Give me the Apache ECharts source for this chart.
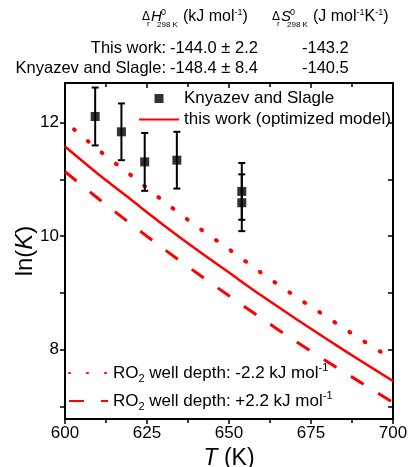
<!DOCTYPE html>
<html>
<head>
<meta charset="utf-8">
<script src="https://cdn.jsdelivr.net/npm/echarts@6/dist/echarts.min.js"></script>
<style>
  html, body { margin: 0; padding: 0; background: #ffffff; }
  #chart { width: 408px; height: 467px; }
</style>
</head>
<body>
<div id="chart"></div>
<script>
// Temperature grid (K) for the model curves
const temperatures = [600, 610, 620, 630, 640, 650, 660, 670, 680, 690, 700];
// ln(K) from the optimized model
const lnKModel = [11.58, 11.10, 10.65, 10.20, 9.77, 9.36, 8.95, 8.56, 8.18, 7.81, 7.45];
// ln(K) with RO2 well depth shifted by -2.2 kJ/mol
const lnKShallow = [12.02, 11.53, 11.08, 10.62, 10.18, 9.77, 9.35, 8.95, 8.57, 8.19, 7.83];
// ln(K) with RO2 well depth shifted by +2.2 kJ/mol
const lnKDeep = [11.14, 10.67, 10.22, 9.78, 9.36, 8.95, 8.55, 8.16, 7.79, 7.43, 7.07];

// Knyazev and Slagle measurements
const ksT = [609.2, 617.2, 624.3, 634.1, 653.9, 653.9];
const ksLnK = [12.11, 11.84, 11.31, 11.34, 10.79, 10.59];
const ksErr = [0.51, 0.50, 0.51, 0.50, 0.50, 0.50];

// Axis ticks
const xTicks = [600, 625, 650, 675, 700];
const yLabelTicks = [8, 10, 12];
const yAllTicks = [7, 8, 9, 10, 11, 12];

const FONT = "'Liberation Sans', Arial, Helvetica, sans-serif";
const RED = '#ff0000';

const pairs = (xs, ys) => xs.map((x, i) => [x, ys[i]]);
const errRows = ksT.map((t, i) => [t, ksLnK[i] - ksErr[i], ksLnK[i] + ksErr[i]]);

const chart = echarts.init(document.getElementById('chart'), null, { renderer: 'canvas' });

const axisLine = { show: true, onZero: false, lineStyle: { color: '#000', width: 2 } };

const legendRich = {
  t: { fontSize: 17, fontFamily: FONT, color: '#000', lineHeight: 22 },
  sub: { fontSize: 11, fontFamily: FONT, color: '#000', verticalAlign: 'bottom', lineHeight: 22, padding: [8, 0, 0, 0] },
  sup: { fontSize: 11, fontFamily: FONT, color: '#000', verticalAlign: 'top', lineHeight: 22, padding: [0, 0, 8, 0] }
};

const NAME_MODEL = 'this work (optimized model)';
const NAME_KS = 'Knyazev and Slagle';
const NAME_SHALLOW = 'RO2 well depth: -2.2 kJ mol-1';
const NAME_DEEP = 'RO2 well depth: +2.2 kJ mol-1';

// line legend entries: hide the default marker drawn at the middle of the sample
const lineEntry = (name) => ({ name: name, itemStyle: { color: 'rgba(0,0,0,0)', borderWidth: 0 } });

const headerRich = {
  t: { fontSize: 16, fontFamily: FONT, lineHeight: 18, color: '#000' },
  s: { fontSize: 9, fontFamily: FONT, verticalAlign: 'top', lineHeight: 18, color: '#000' }
};

const option = {
  backgroundColor: '#ffffff',
  animation: false,
  grid: { left: 65, right: 15, top: 83, bottom: 48, outerBoundsMode: 'none', containLabel: false },
  xAxis: [
    {
      type: 'value', position: 'bottom', min: 600, max: 700, interval: 25,
      axisLine: axisLine,
      axisTick: { show: true, inside: false, length: 5, lineStyle: { color: '#000', width: 1.5 } },
      minorTick: { show: true, splitNumber: 2, length: 4, lineStyle: { color: '#000', width: 1.5 } },
      axisLabel: { show: true, color: '#000', fontSize: 17, fontFamily: FONT, margin: 6,
        customValues: xTicks },
      splitLine: { show: false },
      name: '{i|T}{n| (K)}', nameLocation: 'middle', nameGap: 26,
      nameTextStyle: { rich: {
        i: { fontSize: 23, fontStyle: 'italic', fontFamily: FONT, color: '#000' },
        n: { fontSize: 23, fontFamily: FONT, color: '#000' }
      } }
    },
    {
      type: 'value', position: 'top', min: 600, max: 700, interval: 25,
      axisLine: axisLine,
      axisTick: { show: true, inside: true, length: 5, lineStyle: { color: '#000', width: 1.5 } },
      minorTick: { show: true, splitNumber: 2, length: 4, lineStyle: { color: '#000', width: 1.5 } },
      axisLabel: { show: false },
      splitLine: { show: false }
    }
  ],
  yAxis: [
    {
      type: 'value', position: 'left', min: 6.78, max: 12.7,
      axisLine: axisLine,
      axisTick: { show: true, inside: false, length: 5, customValues: yAllTicks, lineStyle: { color: '#000', width: 1.5 } },
      axisLabel: { show: true, color: '#000', fontSize: 17, fontFamily: FONT, margin: 6, customValues: yLabelTicks },
      splitLine: { show: false },
      name: '{n|ln(}{i|K}{n|)}', nameLocation: 'middle', nameGap: 28, nameRotate: 90,
      nameMoveOverlap: false,
      nameTextStyle: { rich: {
        i: { fontSize: 24, fontStyle: 'italic', fontFamily: FONT, color: '#000' },
        n: { fontSize: 24, fontFamily: FONT, color: '#000' }
      } }
    },
    {
      type: 'value', position: 'right', min: 6.78, max: 12.7,
      axisLine: axisLine,
      axisTick: { show: true, inside: true, length: 5, customValues: yAllTicks, lineStyle: { color: '#000', width: 1.5 } },
      axisLabel: { show: false },
      splitLine: { show: false }
    }
  ],
  legend: [
    {
      orient: 'vertical', left: 138, top: 88, padding: 0,
      itemWidth: 40, itemHeight: 9, itemGap: 0, symbolKeepAspect: true,
      data: [
        { name: NAME_KS, icon: 'path://M0,0H10V10H0Z' },
        lineEntry(NAME_MODEL)
      ],
      textStyle: { fontSize: 17, fontFamily: FONT, color: '#000', lineHeight: 21 },
      selectedMode: false
    },
    {
      orient: 'vertical', left: 68, top: 362, padding: 0,
      itemWidth: 39, itemHeight: 9, itemGap: 6,
      data: [lineEntry(NAME_SHALLOW), lineEntry(NAME_DEEP)],
      lineStyle: { dashOffset: 0 },
      formatter: function (name) {
        const sign = name === NAME_SHALLOW ? '-2.2' : '+2.2';
        return '{t|RO}{sub|2}{t| well depth: ' + sign + ' kJ mol}{sup|-1}';
      },
      textStyle: { rich: legendRich },
      selectedMode: false
    }
  ],
  series: [
    {
      name: NAME_SHALLOW, type: 'line', xAxisIndex: 0, yAxisIndex: 0,
      data: pairs(temperatures, lnKShallow), symbol: 'none', smooth: 0.3, z: 3,
      lineStyle: { color: RED, width: 4, type: [1, 17], dashOffset: 6, cap: 'round' },
      itemStyle: { color: RED }
    },
    {
      name: NAME_DEEP, type: 'line', xAxisIndex: 0, yAxisIndex: 0,
      data: pairs(temperatures, lnKDeep), symbol: 'none', smooth: 0.3, z: 3,
      lineStyle: { color: RED, width: 3, type: [15, 17] },
      itemStyle: { color: RED }
    },
    {
      name: NAME_MODEL, type: 'line', xAxisIndex: 0, yAxisIndex: 0,
      data: pairs(temperatures, lnKModel), symbol: 'none', smooth: 0.3, z: 3,
      lineStyle: { color: RED, width: 2.5, type: 'solid' },
      itemStyle: { color: RED }
    },
    {
      name: 'error bars', type: 'custom', xAxisIndex: 0, yAxisIndex: 0,
      data: errRows, z: 4,
      renderItem: function (params, api) {
        const t = api.value(0);
        const top = api.coord([t, api.value(2)]);
        const bot = api.coord([t, api.value(1)]);
        const half = 3.5;
        const style = { stroke: '#000', lineWidth: 2, fill: null };
        return {
          type: 'group',
          children: [
            { type: 'line', shape: { x1: top[0], y1: top[1], x2: bot[0], y2: bot[1] }, style: style },
            { type: 'line', shape: { x1: top[0] - half, y1: top[1], x2: top[0] + half, y2: top[1] }, style: style },
            { type: 'line', shape: { x1: bot[0] - half, y1: bot[1], x2: bot[0] + half, y2: bot[1] }, style: style }
          ]
        };
      }
    },
    {
      name: NAME_KS, type: 'scatter', xAxisIndex: 0, yAxisIndex: 0,
      data: pairs(ksT, ksLnK), symbol: 'rect', symbolSize: 9, z: 5,
      itemStyle: { color: '#000' }
    }
  ],
  graphic: [
    // column header: enthalpy
    { type: 'text', x: 142, y: 17, style: { text: 'Δ', font: '12px ' + FONT, fill: '#000', verticalAlign: 'middle' } },
    { type: 'text', x: 147, y: 24, style: { text: 'r', font: '8px ' + FONT, fill: '#000', verticalAlign: 'middle' } },
    { type: 'text', x: 151, y: 16.5, style: { text: 'H', font: 'italic 15px ' + FONT, fill: '#000', verticalAlign: 'middle' } },
    { type: 'text', x: 161, y: 12.5, style: { text: '0', font: '9px ' + FONT, fill: '#000', verticalAlign: 'middle' } },
    { type: 'text', x: 157, y: 24.5, style: { text: '298 K', font: '8px ' + FONT, fill: '#000', verticalAlign: 'middle' } },
    { type: 'text', x: 183, y: 17, style: { text: '{t|(kJ mol}{s|-1}{t|)}', fill: '#000', verticalAlign: 'middle', rich: headerRich } },
    // column header: entropy
    { type: 'text', x: 272, y: 17, style: { text: 'Δ', font: '12px ' + FONT, fill: '#000', verticalAlign: 'middle' } },
    { type: 'text', x: 277, y: 24, style: { text: 'r', font: '8px ' + FONT, fill: '#000', verticalAlign: 'middle' } },
    { type: 'text', x: 281, y: 16.5, style: { text: 'S', font: 'italic 15px ' + FONT, fill: '#000', verticalAlign: 'middle' } },
    { type: 'text', x: 290, y: 12.5, style: { text: '0', font: '9px ' + FONT, fill: '#000', verticalAlign: 'middle' } },
    { type: 'text', x: 287, y: 24.5, style: { text: '298 K', font: '8px ' + FONT, fill: '#000', verticalAlign: 'middle' } },
    { type: 'text', x: 313, y: 17, style: { text: '{t|(J mol}{s|-1}{t|K}{s|-1}{t|)}', fill: '#000', verticalAlign: 'middle', rich: headerRich } },
    // rows
    { type: 'text', x: 166, y: 48, style: { text: 'This work:', font: '16.5px ' + FONT, fill: '#000', textAlign: 'right', verticalAlign: 'middle' } },
    { type: 'text', x: 170, y: 48, style: { text: '-144.0 ± 2.2', font: '16.5px ' + FONT, fill: '#000', verticalAlign: 'middle' } },
    { type: 'text', x: 302, y: 48, style: { text: '-143.2', font: '16.5px ' + FONT, fill: '#000', verticalAlign: 'middle' } },
    { type: 'text', x: 166, y: 68, style: { text: 'Knyazev and Slagle:', font: '16.5px ' + FONT, fill: '#000', textAlign: 'right', verticalAlign: 'middle' } },
    { type: 'text', x: 170, y: 68, style: { text: '-148.4 ± 8.4', font: '16.5px ' + FONT, fill: '#000', verticalAlign: 'middle' } },
    { type: 'text', x: 302, y: 68, style: { text: '-140.5', font: '16.5px ' + FONT, fill: '#000', verticalAlign: 'middle' } }
  ]
};

chart.setOption(option);
</script>
</body>
</html>
